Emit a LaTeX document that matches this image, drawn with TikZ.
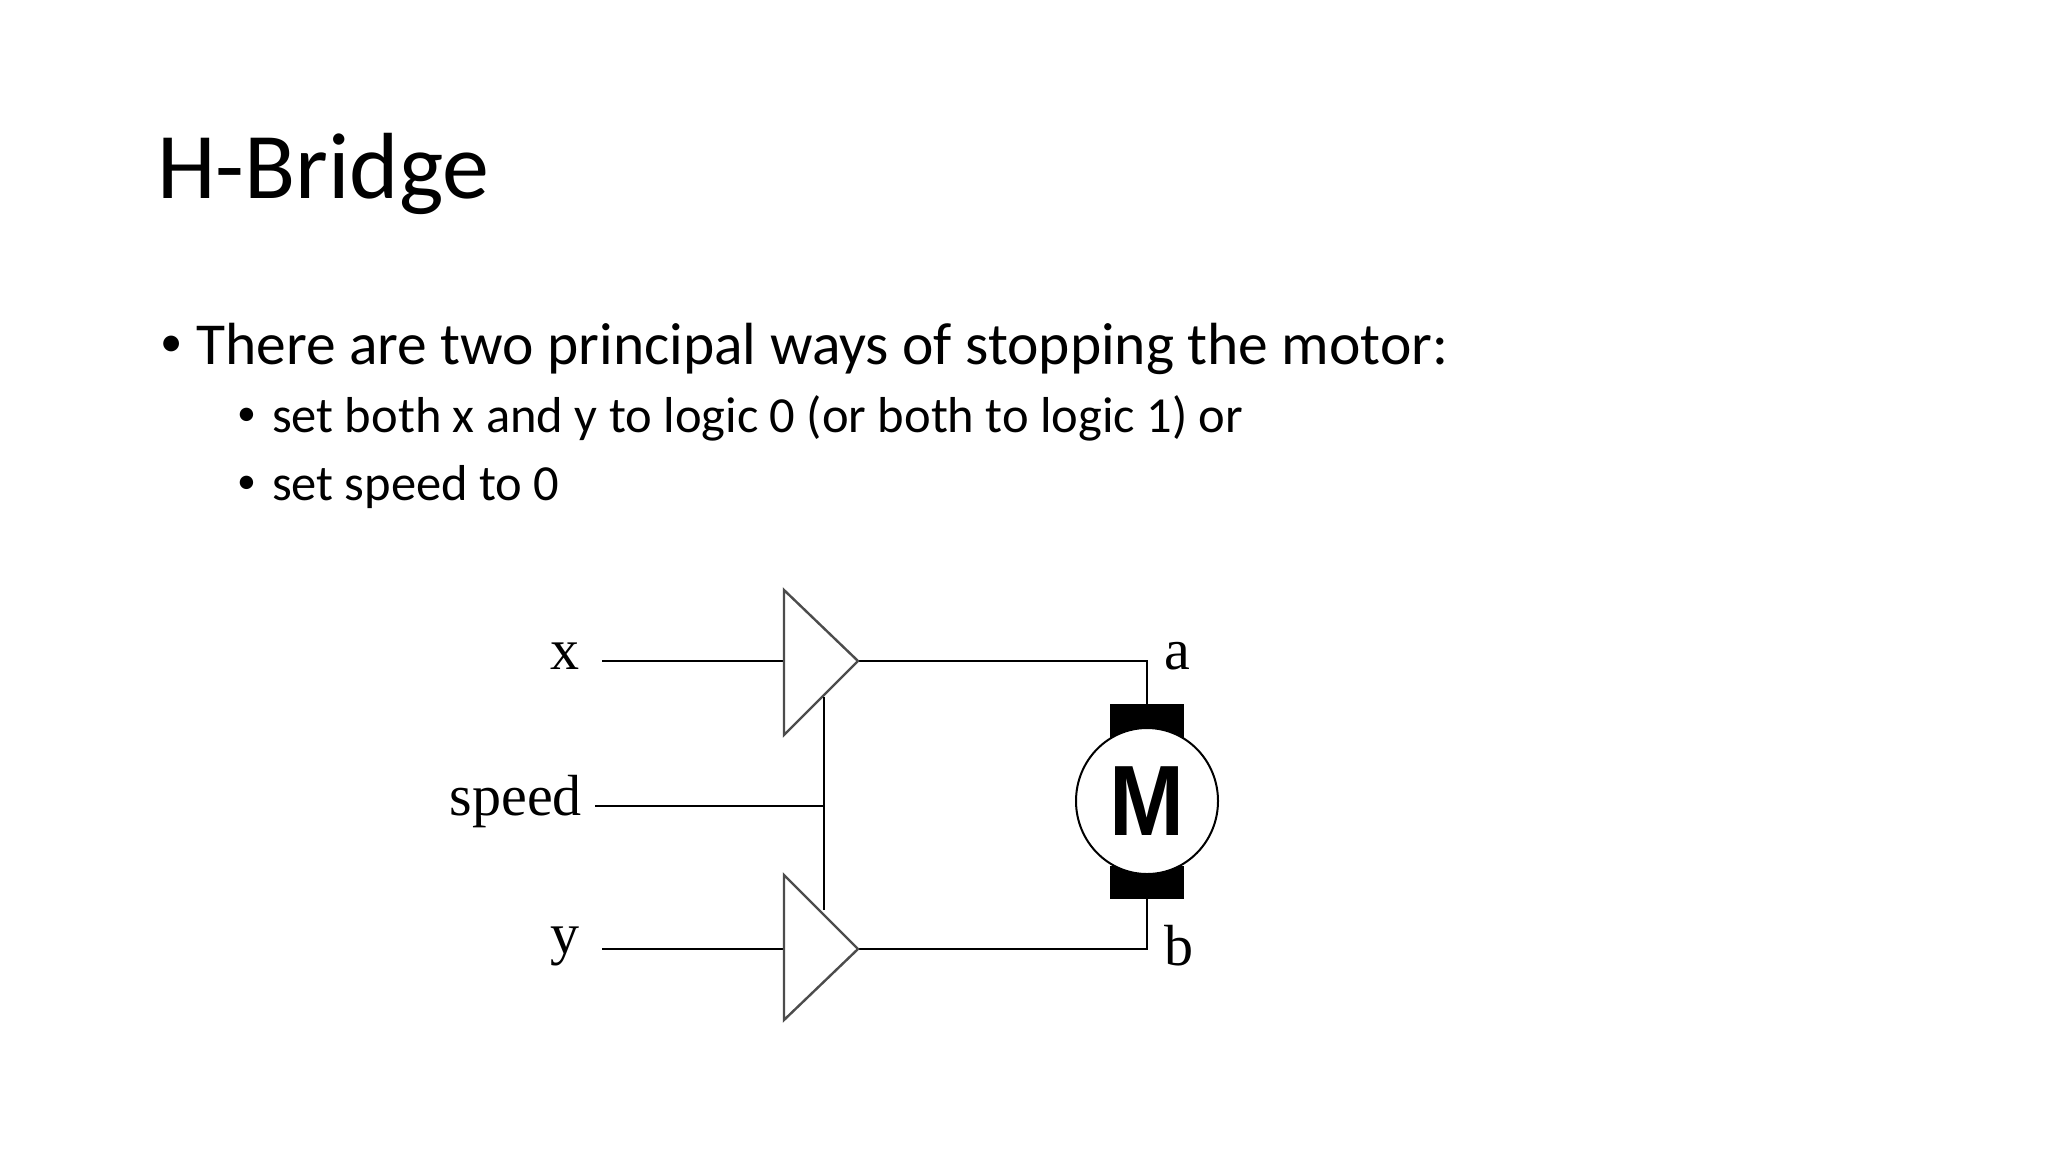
\documentclass[tikz,border=0pt]{standalone}
\usepackage{fontspec}
\setmainfont{Carlito}
\newfontfamily\serifc{Liberation Serif}
\newfontfamily\sansb{Liberation Sans}
\newcommand{\smbul}{\raisebox{0.12em}{\scalebox{0.75}{•}}}
\begin{document}
\begin{tikzpicture}[x=1pt,y=-1pt,
  lbl/.style={font=\serifc\fontsize{58}{58}\selectfont,inner sep=0pt},
  wire/.style={line width=2.6pt},
  buf/.style={line width=2.4pt,draw=black!70,fill=white}]
\useasboundingbox (0,0) rectangle (2048,1152);
\fill[white] (0,0) rectangle (2048,1152);
\node[anchor=base west,inner sep=0pt,font=\fontsize{94}{94}\selectfont] (title) at (157,198) {H-Bridge};
\node[anchor=base west,inner sep=0pt,font=\fontsize{59.5}{59.5}\selectfont] (b1) at (160,364) {\smbul\hspace{14pt}There are two principal ways of stopping the motor:};
\node[anchor=base west,inner sep=0pt,font=\fontsize{50.5}{50.5}\selectfont] (b2) at (237,432) {\smbul\hspace{16pt}set both x and y to logic 0 (or both to logic 1) or};
\node[anchor=base west,inner sep=0pt,font=\fontsize{50.5}{50.5}\selectfont] (b3) at (237,500) {\smbul\hspace{16pt}set speed to 0};
\begin{scope}[shift={(-9,-8)}]
% labels
\node[lbl,anchor=east] (x) at (589,664) {x};
\node[lbl,anchor=east] (sp) at (591,810) {speed};
\node[lbl,anchor=east] (y) at (589,954) {y};
\node[lbl,anchor=west] (a) at (1173,664) {a};
\node[lbl,anchor=west] (b) at (1173,954) {b};
% coordinates
\coordinate (xin) at (611,669);
\coordinate (x1) at (793,669);
\coordinate (t1) at (867,669);
\coordinate (yin) at (611,957);
\coordinate (y1) at (793,957);
\coordinate (t2) at (867,957);
\coordinate (spin) at (604,814);
\coordinate (sj) at (833,814);
\coordinate (vtop) at (833,705);
\coordinate (vbot) at (833,918);
\coordinate (ca) at (1156,669);
\coordinate (cb) at (1156,957);
% wires
\draw[wire] (xin) -- (x1);
\draw[wire] (yin) -- (y1);
\draw[wire] (spin) -- (sj);
\draw[wire] (t1) -- (ca) -- (1156,714);
\draw[wire] (t2) -- (cb) -- (1156,907);
% buffers
\draw[buf] (793,598) -- (793,743) -- (t1) -- cycle;
\draw[buf] (793,883) -- (793,1028) -- (t2) -- cycle;
\draw[wire] (vtop) -- (vbot);
% motor
\fill (1119,712) rectangle (1193,746);
\fill (1119,874) rectangle (1193,907);
\draw[line width=2pt,fill=white] (1156,809) ellipse [x radius=71,y radius=73];
\node[inner sep=0pt,font=\sansb\bfseries\fontsize{100}{100}\selectfont,xscale=0.9] (M) at (1156,809) {M};
\end{scope}
\end{tikzpicture}
\end{document}
